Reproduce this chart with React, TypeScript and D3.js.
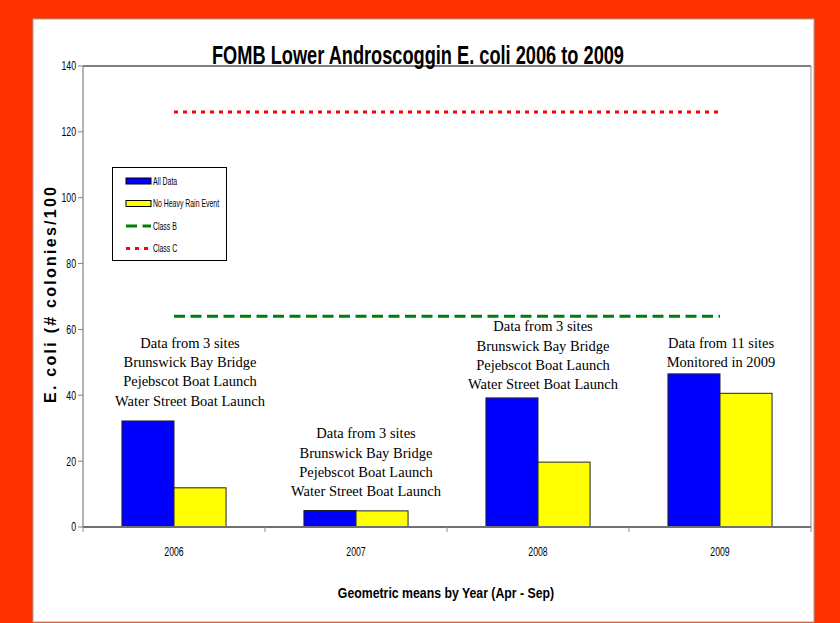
import React from 'react';
import * as d3 from 'd3';

const years = ['2006', '2007', '2008', '2009'];
const seriesNames = ['All Data', 'No Heavy Rain Event'];
const allData = [32.2, 5.0, 39.2, 46.5];
const noHeavyRain = [11.9, 4.9, 19.7, 40.6];
const classB = [64, 64, 64, 64];
const classC = [126, 126, 126, 126];
const yTicks = [0, 20, 40, 60, 80, 100, 120, 140];

const notes = [
  ['Data from 3 sites', 'Brunswick Bay Bridge', 'Pejebscot Boat Launch', 'Water Street Boat Launch'],
  ['Data from 3 sites', 'Brunswick Bay Bridge', 'Pejebscot Boat Launch', 'Water Street Boat Launch'],
  ['Data from 3 sites', 'Brunswick Bay Bridge', 'Pejebscot Boat Launch', 'Water Street Boat Launch'],
  ['Data from 11 sites', 'Monitored in 2009'],
];
// value (in y units) where the centre of the first note line sits, and x offset from the category centre
const noteTop = [56, 28.5, 61, 56];
const noteDx = [16, 10, 5, 1];

const W = 840;
const H = 623;
const sans = '"Liberation Sans", Arial, sans-serif';

// condensed text: no narrow font installed, so squeeze horizontally
function Narrow({ x, y, sx = 0.75, anchor = 'start', size = 11, bold = false, children }: any) {
  return (
    <text transform={`translate(${x},${y}) scale(${sx},1)`} dy="0.35em" textAnchor={anchor}
      fontFamily={sans} fontSize={size} fontWeight={bold ? 'bold' : 'normal'} fill="#000">
      {children}
    </text>
  );
}

export default function App() {
  const left = 83, right = 811, top = 66, bottom = 527;

  const x = d3.scaleBand<string>().domain(years).range([left, right]);
  const groupW = x.bandwidth() * 0.572;
  const x1 = d3.scaleBand<string>()
    .domain(seriesNames)
    .range([(x.bandwidth() - groupW) / 2, (x.bandwidth() + groupW) / 2]);
  const y = d3.scaleLinear().domain([0, 140]).range([bottom, top]);

  const cx = (yr: string) => (x(yr) ?? 0) + x.bandwidth() / 2;
  const line = d3.line<number>()
    .x((_, i) => cx(years[i]))
    .y(d => y(d));

  const colors = ['#0000FF', '#FFFF00'];
  const values = [allData, noHeavyRain];

  const legendX = 126, legendY = 181, legendStep = 22.5;

  return (
    <svg width={W} height={H} style={{ position: 'absolute', left: 0, top: 0, display: 'block' }}>
      <rect x={0} y={0} width={W} height={H} fill="#FF3300" />
      <rect x={33} y={19} width={781} height={603} fill="#FFFFFF" stroke="#A0A0A0" strokeWidth={1} />

      {/* title */}
      <text x={418} y={64} textAnchor="middle" fontFamily={sans} fontWeight="bold" fontSize={25}
        textLength={412} lengthAdjust="spacingAndGlyphs" fill="#000">
        FOMB Lower Androscoggin E. coli 2006 to 2009
      </text>

      {/* plot frame */}
      <line x1={left} x2={right} y1={top} y2={top} stroke="#000" strokeWidth={1} />
      <line x1={right} x2={right} y1={top} y2={bottom} stroke="#909090" strokeWidth={1} />
      <line x1={left} x2={left} y1={top} y2={bottom} stroke="#808080" strokeWidth={1.2} />

      {/* y ticks */}
      {yTicks.map(t => (
        <g key={t}>
          <line x1={left - 5} x2={left} y1={y(t)} y2={y(t)} stroke="#808080" />
          <Narrow x={left - 7} y={y(t)} anchor="end" size={12.5} sx={0.7}>{t}</Narrow>
        </g>
      ))}

      {/* bars */}
      {years.map((yr, i) => (
        <g key={yr} transform={`translate(${x(yr)},0)`}>
          {seriesNames.map((s, j) => (
            <rect key={s} x={x1(s)} y={y(values[j][i])} width={x1.bandwidth()}
              height={y(0) - y(values[j][i])} fill={colors[j]} stroke="#222" strokeWidth={1} />
          ))}
        </g>
      ))}

      {/* x axis */}
      <line x1={left} x2={right} y1={bottom} y2={bottom} stroke="#707070" strokeWidth={2} />
      {[...years.map(yr => x(yr) ?? 0), right].map((v, i) => (
        <line key={i} x1={v} x2={v} y1={bottom} y2={bottom + 5} stroke="#909090" />
      ))}
      {years.map(yr => (
        <Narrow key={yr} x={cx(yr)} y={552} anchor="middle" size={12.5} sx={0.7}>{yr}</Narrow>
      ))}

      {/* standards */}
      <path d={line(classB) ?? ''} fill="none" stroke="#008000" strokeWidth={3} strokeDasharray="11 5.5" />
      <path d={line(classC) ?? ''} fill="none" stroke="#FF0000" strokeWidth={3} strokeDasharray="4 5" />

      {/* notes */}
      {notes.map((lines, i) => (
        <text key={i} textAnchor="middle" fontFamily='"Liberation Serif", "Times New Roman", serif' fontSize={14.5} fill="#000">
          {lines.map((l, k) => (
            <tspan key={k} x={cx(years[i]) + noteDx[i]} y={y(noteTop[i]) + k * 19.3} dy="0.35em">{l}</tspan>
          ))}
        </text>
      ))}

      {/* legend */}
      <rect x={112.5} y={167.5} width={114} height={93} fill="#FFF" stroke="#000" strokeWidth={1} />
      {seriesNames.map((s, j) => (
        <g key={s}>
          <rect x={legendX} y={legendY + j * legendStep - 3} width={25} height={6} fill={colors[j]} stroke="#000" strokeWidth={1} />
          <Narrow x={legendX + 27} y={legendY + j * legendStep} size={10.5} sx={0.66}>{s}</Narrow>
        </g>
      ))}
      {[
        { name: 'Class B', color: '#008000', dash: '11 5.5' },
        { name: 'Class C', color: '#FF0000', dash: '4 5' },
      ].map((d, j) => {
        const ly = legendY + (j + 2) * legendStep;
        return (
          <g key={d.name}>
            <line x1={legendX} x2={legendX + 25} y1={ly} y2={ly} stroke={d.color} strokeWidth={3} strokeDasharray={d.dash} />
            <Narrow x={legendX + 27} y={ly} size={10.5} sx={0.66}>{d.name}</Narrow>
          </g>
        );
      })}

      {/* axis titles */}
      <text transform="translate(56,295) rotate(-90)" textAnchor="middle" fontFamily={sans}
        fontWeight="bold" fontSize={16} textLength={216} lengthAdjust="spacing" fill="#000">
        E. coli (# colonies/100
      </text>
      <Narrow x={446} y={593} anchor="middle" size={15} sx={0.82} bold>
        Geometric means by Year (Apr - Sep)
      </Narrow>
    </svg>
  );
}
